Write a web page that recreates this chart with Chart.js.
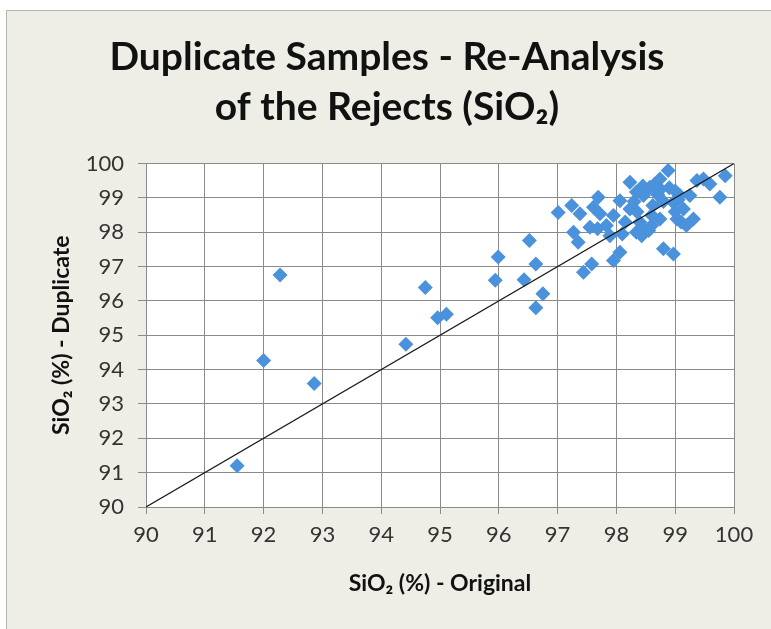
<!DOCTYPE html>
<html>
<head>
<meta charset="utf-8">
<script src="https://cdn.jsdelivr.net/npm/chart.js@4.4.1/dist/chart.umd.min.js"></script>
<style>
  html, body { margin: 0; padding: 0; background: #fff; }
  #wrap { width: 771px; height: 629px; }
</style>
</head>
<body>
<div id="wrap"><canvas id="dupChart" width="771" height="629"></canvas></div>
<script>
// SiO2 (%) original vs duplicate (re-analysis of rejects)
const sio2Original = [
  91.55, 92.0, 92.28, 92.86, 94.42, 94.75, 94.96, 95.11, 95.94, 95.99,
  96.43, 96.52, 96.63, 96.63, 96.75,
  97.01, 97.24, 97.38, 97.27, 97.35, 97.55, 97.61, 97.69, 97.72, 97.44,
  97.58, 97.95, 98.06, 97.83, 97.95, 98.06, 98.23, 98.34, 98.23, 98.40,
  98.34, 97.89, 97.68,
  98.88, 98.74, 98.57, 98.46, 98.62, 98.74, 99.03, 99.19, 99.31, 99.14,
  99.25, 99.37, 99.48, 99.59, 99.85, 99.76, 98.80, 98.97, 98.43, 98.43,
  99.08, 98.97,
  98.5, 98.7, 98.9, 98.6, 98.3, 98.8, 99.0, 98.15, 98.1, 98.55, 99.1, 98.65, 99.0,
  98.45, 98.75, 99.05, 98.35, 98.6
];
const sio2Duplicate = [
  91.2, 94.27, 96.76, 93.6, 94.74, 96.39, 95.51, 95.61, 96.6, 97.28,
  96.62, 97.76, 97.08, 95.8, 96.21,
  98.58, 98.78, 98.54, 98.0, 97.71, 98.15, 98.73, 99.02, 98.54, 96.84,
  97.08, 97.18, 97.42, 98.2, 98.49, 98.92, 99.46, 99.17, 98.68, 98.29,
  98.0, 97.9, 98.1,
  99.8, 99.55, 99.31, 99.07, 98.78, 98.39, 98.39, 98.2, 98.39, 98.68,
  99.07, 99.51, 99.55, 99.41, 99.65, 99.02, 97.52, 97.37, 98.15, 97.9,
  99.07, 98.87,
  99.2, 99.1, 99.3, 98.5, 98.9, 98.9, 98.6, 98.3, 97.95, 98.05, 98.3, 99.4, 99.2,
  99.35, 99.25, 98.95, 98.6, 98.2
];
// 1:1 reference line
const oneToOne = [90, 100];
const axisMin = 90;
const axisMax = 100;

const points = sio2Original.map((x, i) => ({ x: x, y: sio2Duplicate[i] }));
const linePts = oneToOne.map(v => ({ x: v, y: v }));

const gridGrey = '#8a8a8a';
const labelFont = { family: 'Lato, "Open Sans", sans-serif', size: 22 };
const axisTitleFont = { family: 'Lato, "Open Sans", sans-serif', size: 23, weight: 'bold', lineHeight: 1.2 };

// page background + frame + white plot area
const backdrop = {
  id: 'backdrop',
  beforeDraw(chart) {
    const { ctx, chartArea } = chart;
    ctx.save();
    ctx.fillStyle = '#ffffff';
    ctx.fillRect(0, 0, chart.width, chart.height);
    ctx.fillStyle = '#efeee6';
    ctx.fillRect(6, 10, chart.width - 6, chart.height - 10);
    ctx.strokeStyle = '#b5b5b0';
    ctx.lineWidth = 1;
    ctx.beginPath();
    ctx.moveTo(6.5, chart.height);
    ctx.lineTo(6.5, 10.5);
    ctx.lineTo(chart.width, 10.5);
    ctx.stroke();
    ctx.fillStyle = '#ffffff';
    ctx.fillRect(chartArea.left, chartArea.top, chartArea.right - chartArea.left, chartArea.bottom - chartArea.top);
    ctx.restore();
  }
};

new Chart(document.getElementById('dupChart').getContext('2d'), {
  type: 'scatter',
  data: {
    datasets: [
      {
        type: 'line',
        label: '1:1',
        data: linePts,
        borderColor: '#1a1a1a',
        borderWidth: 1.2,
        pointRadius: 0,
        fill: false
      },
      {
        label: 'SiO2',
        data: points,
        pointStyle: 'rectRot',
        pointRadius: 7.5,
        backgroundColor: '#4b92dc',
        borderColor: '#4b92dc',
        borderWidth: 0
      }
    ]
  },
  options: {
    responsive: false,
    animation: false,
    layout: { padding: { left: 40, right: 37, top: 8, bottom: 10 } },
    plugins: {
      legend: { display: false },
      tooltip: { enabled: false },
      title: {
        display: true,
        text: ['Duplicate Samples - Re-Analysis', 'of the Rejects (SiO\u2082)'],
        color: '#111',
        font: { family: 'Lato, "Open Sans", sans-serif', size: 39, weight: 'bold', lineHeight: 1.29 },
        padding: { top: 24, bottom: 31 }
      }
    },
    scales: {
      x: {
        type: 'linear',
        min: axisMin,
        max: axisMax,
        ticks: { stepSize: 1, color: '#333', font: labelFont, padding: 8 },
        grid: { color: gridGrey, lineWidth: 1, tickLength: 7 },
        border: { color: gridGrey },
        title: {
          display: true,
          text: 'SiO\u2082 (%) - Original',
          color: '#111',
          font: axisTitleFont,
          padding: { top: 4, bottom: 22 }
        },
        afterFit(scale) { scale.height = 629 - 507 - 10; }
      },
      y: {
        type: 'linear',
        min: axisMin,
        max: axisMax,
        ticks: { stepSize: 1, color: '#333', font: labelFont, padding: 14 },
        grid: { color: gridGrey, lineWidth: 1, tickLength: 8 },
        border: { color: gridGrey },
        title: {
          display: true,
          text: 'SiO\u2082 (%) - Duplicate',
          color: '#111',
          font: axisTitleFont,
          padding: { top: 8, bottom: 4 }
        },
        afterFit(scale) { scale.width = 146 - 40; }
      }
    }
  },
  plugins: [backdrop]
});
</script>
</body>
</html>
